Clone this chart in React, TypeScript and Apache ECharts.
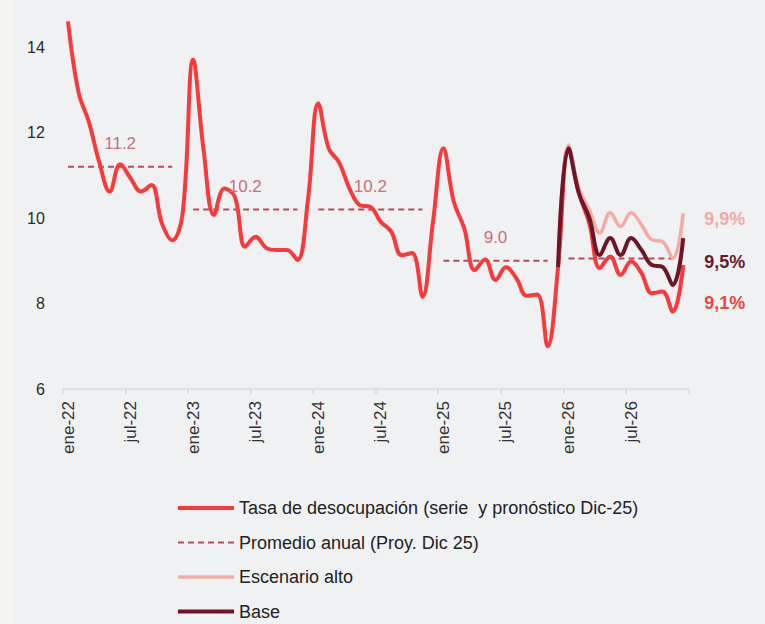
import React, { useEffect, useRef } from 'react';
import * as echarts from 'echarts';

// ---- Data ----
const MONTHS = ['ene', 'feb', 'mar', 'abr', 'may', 'jun', 'jul', 'ago', 'sep', 'oct', 'nov', 'dic'];
const YEARS = ['22', '23', '24', '25', '26'];
const categories = YEARS.flatMap((y) => MONTHS.map((m) => `${m}-${y}`));

const tasa2022 = [14.6, 12.95, 12.25, 11.3, 10.62, 11.26, 10.93, 10.62, 10.77, 9.88, 9.48, 10.12];
const tasa2023 = [13.7, 11.6, 10.07, 10.69, 10.5, 9.33, 9.56, 9.3, 9.25, 9.25, 9.02, 10.4];
const tasa2024 = [12.68, 11.63, 11.3, 10.69, 10.3, 10.26, 9.91, 9.68, 9.13, 9.18, 8.16, 9.9];
const tasa2025 = [11.63, 10.38, 9.76, 8.78, 9.03, 8.55, 8.85, 8.59, 8.18, 8.21, 7.0, 8.85];
const tasa2026 = [11.63, 10.58, 9.88, 8.83, 9.1, 8.67, 8.98, 8.71, 8.24, 8.28, 7.81, 8.9];

const dic25 = 8.85;
const alto2026 = [11.71, 10.7, 10.19, 9.65, 10.12, 9.8, 10.12, 9.84, 9.49, 9.45, 9.06, 10.11];
const base2026 = [11.63, 10.58, 10.0, 9.13, 9.53, 9.13, 9.53, 9.25, 8.9, 8.86, 8.43, 9.53];

const promedioAnual = [11.2, 10.2, 10.2, 9.0, 9.05];
const promedioLabels = ['11.2', '10.2', '10.2', '9.0', ''];

const endLabelTasa = '9,1%';
const endLabelAlto = '9,9%';
const endLabelBase = '9,5%';

const yTicks = [6, 8, 10, 12, 14];

const NAME_TASA = 'Tasa de desocupación (serie  y pronóstico Dic-25)';
const NAME_PROM = 'Promedio anual (Proy. Dic 25)';
const NAME_ALTO = 'Escenario alto';
const NAME_BASE = 'Base';

// ---- Derived tables ----
const tasa = [...tasa2022, ...tasa2023, ...tasa2024, ...tasa2025, ...tasa2026];
const leadNulls = (n: number) => Array.from({ length: n }, () => null as number | null);
const alto = [...leadNulls(47), dic25, ...alto2026];
const base = [...leadNulls(47), dic25, ...base2026];
const promedio: (number | null)[] = [];
promedioAnual.forEach((v) => {
  for (let m = 0; m < 12; m++) promedio.push(m < 11 ? v : null);
});
const promMarks = promedioAnual
  .map((v, k) => ({ v, k, t: promedioLabels[k] }))
  .filter((d) => d.t !== '')
  .map((d) => ({
    coord: [d.k * 12 + 5, d.v],
    value: d.v,
    label: { formatter: d.t },
  }));

const FONT = '"Liberation Sans", Arial, sans-serif';
const RED = '#f93a3a';
const PINK = '#f5aaa4';
const DARK = '#6c1628';
const DASH = '#bd4a5a';

export default function App() {
  const ref = useRef<HTMLDivElement>(null);
  useEffect(() => {
    if (!ref.current) return;
    const chart = echarts.init(ref.current, undefined, { renderer: 'svg' });
    chart.setOption({
      animation: false,
      backgroundColor: '#f0f1f3',
      textStyle: { fontFamily: FONT },
      graphic: [
        {
          type: 'rect',
          left: 0,
          top: 0,
          shape: { width: 14, height: 624 },
          style: { fill: '#f5f5f0' },
          z: -10,
        },
      ],
      grid: { left: 62.8, right: 76.6, top: 4.25, bottom: 235, containLabel: false },
      legend: {
        orient: 'vertical',
        left: 176,
        top: 498,
        height: 200,
        padding: 0,
        itemWidth: 56,
        itemHeight: 14,
        itemGap: 14.5,
        data: [NAME_TASA, NAME_PROM, NAME_ALTO, NAME_BASE],
        itemStyle: { opacity: 0 },
        lineStyle: { width: 'inherit' },
        textStyle: { fontSize: 18, color: '#222', fontFamily: FONT, lineHeight: 20 },
      },
      xAxis: {
        type: 'category',
        data: categories,
        boundaryGap: true,
        axisLine: { lineStyle: { color: '#d3dae2', width: 1.5 } },
        axisTick: { show: true, interval: 5, length: 5, lineStyle: { color: '#d3dae2', width: 1.5 } },
        axisLabel: {
          interval: 5,
          rotate: 90,
          margin: 12,
          fontSize: 17,
          color: '#333',
          fontFamily: FONT,
        },
        splitLine: { show: false },
      },
      yAxis: {
        type: 'value',
        min: yTicks[0],
        max: 15,
        interval: yTicks[1] - yTicks[0],
        axisLine: { show: false },
        axisTick: { show: false },
        splitLine: { show: false },
        axisLabel: { showMaxLabel: false, fontSize: 16, color: '#2a2a2a', margin: 18, fontFamily: FONT },
      },
      series: [
        {
          name: NAME_TASA,
          type: 'line',
          data: tasa,
          smooth: 0.4,
          symbol: 'none',
          lineStyle: { color: RED, width: 4 },
          itemStyle: { color: RED },
          z: 2,
          endLabel: {
            show: true,
            formatter: () => endLabelTasa,
            color: '#ef4545',
            fontSize: 18,
            fontWeight: 'bold',
            fontFamily: FONT,
            distance: 0,
            offset: [21, 38],
          },
        },
        {
          name: NAME_PROM,
          type: 'line',
          data: promedio,
          symbol: 'none',
          connectNulls: false,
          lineStyle: { color: DASH, width: 2, type: [6, 4] },
          itemStyle: { color: DASH },
          z: 1,
          markPoint: {
            symbol: 'circle',
            symbolSize: 1,
            itemStyle: { color: 'rgba(0,0,0,0)' },
            label: {
              show: true,
              position: 'top',
              distance: 14,
              color: '#c8707c',
              fontSize: 17,
              fontFamily: FONT,
            },
            data: promMarks,
          },
        },
        {
          name: NAME_ALTO,
          type: 'line',
          data: alto,
          smooth: 0.4,
          symbol: 'none',
          lineStyle: { color: PINK, width: 3.5 },
          itemStyle: { color: PINK },
          z: 3,
          endLabel: {
            show: true,
            formatter: () => endLabelAlto,
            color: '#f4a7a3',
            fontSize: 18,
            fontWeight: 'bold',
            fontFamily: FONT,
            distance: 0,
            offset: [21, 6],
          },
        },
        {
          name: NAME_BASE,
          type: 'line',
          data: base,
          smooth: 0.4,
          symbol: 'none',
          lineStyle: { color: DARK, width: 4 },
          itemStyle: { color: DARK },
          z: 4,
          endLabel: {
            show: true,
            formatter: () => endLabelBase,
            color: '#6a1a2c',
            fontSize: 18,
            fontWeight: 'bold',
            fontFamily: FONT,
            distance: 0,
            offset: [21, 24],
          },
        },
      ],
    });
    return () => chart.dispose();
  }, []);

  return (
    <div
      ref={ref}
      style={{ position: 'fixed', left: 0, top: 0, width: 765, height: 624 }}
    />
  );
}
